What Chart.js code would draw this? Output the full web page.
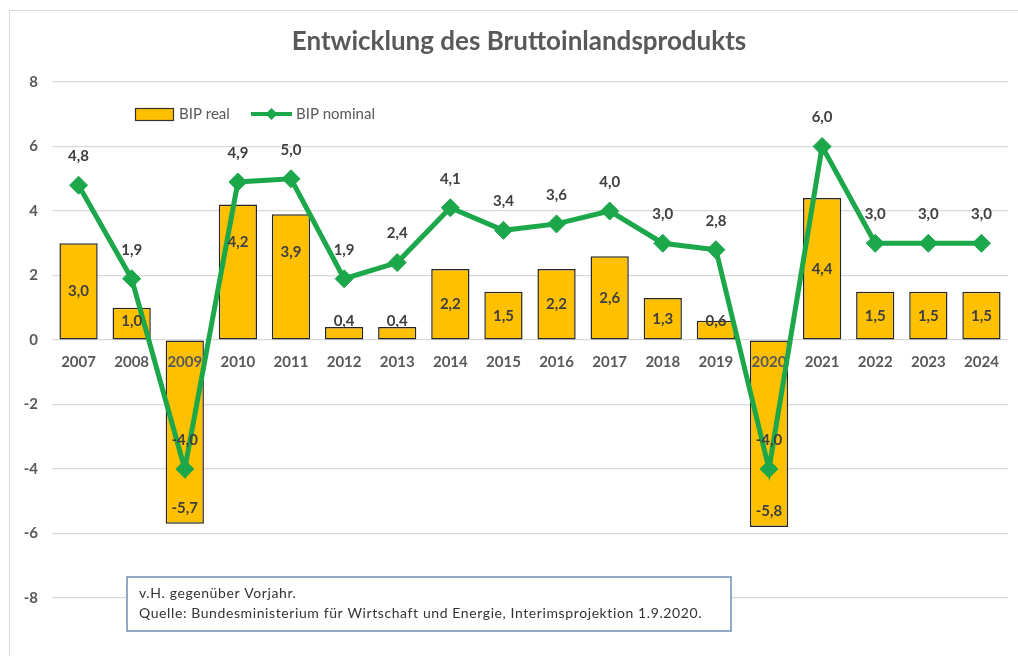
<!DOCTYPE html>
<html>
<head>
<meta charset="utf-8">
<script src="https://cdn.jsdelivr.net/npm/chart.js@4"></script>
<style>
  html, body { margin: 0; padding: 0; background: #fff; }
  #wrap { width: 1018px; height: 656px; position: relative; }
</style>
</head>
<body>
<div id="wrap"><canvas id="bipChart" width="1018" height="656"></canvas></div>
<script>
var years = ['2007', '2008', '2009', '2010', '2011', '2012', '2013', '2014', '2015',
             '2016', '2017', '2018', '2019', '2020', '2021', '2022', '2023', '2024'];
var bipReal = [3.0, 1.0, -5.7, 4.2, 3.9, 0.4, 0.4, 2.2, 1.5, 2.2, 2.6, 1.3, 0.6, -5.8, 4.4, 1.5, 1.5, 1.5];
var bipNominal = [4.8, 1.9, -4.0, 4.9, 5.0, 1.9, 2.4, 4.1, 3.4, 3.6, 4.0, 3.0, 2.8, -4.0, 6.0, 3.0, 3.0, 3.0];
var yTicks = [-8, -6, -4, -2, 0, 2, 4, 6, 8];

var green = '#1ca74b';
var orange = '#ffc000';
var textGrey = '#595959';
var FONT = 'Lato, "Open Sans", sans-serif';

function fmt(v) {
  return v.toFixed(1).replace('.', ',');
}

// extra bits: frame, title, legend, note, year labels, value labels
var extras = {
  id: 'extras',
  beforeDraw: function(chart) {
    var c = chart.ctx;
    c.save();
    c.strokeStyle = '#d9d9d9';
    c.lineWidth = 1;
    c.beginPath();
    c.moveTo(9.5, 660);
    c.lineTo(9.5, 10.5);
    c.lineTo(1020, 10.5);
    c.stroke();
    c.restore();
  },
  beforeDatasetDraw: function(chart, args) {
    if (args.index !== 1) return;
    // year labels sit on the zero line, above the bars but below the line
    var c = chart.ctx;
    var x = chart.scales.x, y = chart.scales.y;
    var y0 = y.getPixelForValue(0);
    c.save();
    c.font = 'bold 15px ' + FONT;
    c.fillStyle = textGrey;
    c.textAlign = 'center';
    c.textBaseline = 'middle';
    years.forEach(function(yr, i) {
      c.fillText(yr, x.getPixelForValue(i), y0 + 22);
    });
    c.restore();
  },
  afterDraw: function(chart) {
    var c = chart.ctx;
    var x = chart.scales.x, y = chart.scales.y;
    var y0 = y.getPixelForValue(0);
    c.save();

    // title
    c.font = 'bold 26px ' + FONT;
    c.fillStyle = textGrey;
    c.textAlign = 'center';
    c.textBaseline = 'middle';
    c.fillText('Entwicklung des Bruttoinlandsprodukts', 519, 42);

    // legend
    c.fillStyle = orange;
    c.fillRect(135.5, 108.5, 38, 12);
    c.strokeStyle = '#333';
    c.lineWidth = 1.2;
    c.strokeRect(135.5, 108.5, 38, 12);
    c.font = '15px ' + FONT;
    c.fillStyle = textGrey;
    c.textAlign = 'left';
    c.fillText('BIP real', 179, 114);
    c.strokeStyle = green;
    c.lineWidth = 4;
    c.beginPath();
    c.moveTo(251, 114);
    c.lineTo(292, 114);
    c.stroke();
    c.fillStyle = green;
    c.beginPath();
    c.moveTo(271.5, 108);
    c.lineTo(277.5, 114);
    c.lineTo(271.5, 120);
    c.lineTo(265.5, 114);
    c.closePath();
    c.fill();
    c.fillStyle = textGrey;
    c.fillText('BIP nominal', 296, 114);

    // bar value labels
    var barMeta = chart.getDatasetMeta(0);
    c.font = 'bold 15px ' + FONT;
    c.fillStyle = '#404040';
    c.textAlign = 'center';
    c.textBaseline = 'middle';
    bipReal.forEach(function(v, i) {
      var bar = barMeta.data[i];
      var ly;
      if (v < 0) {
        ly = bar.y - 16;
      } else {
        ly = Math.min((bar.y + y0) / 2, y0 - 19);
        if (v > 3.5 && v < 4.3) ly = bar.y + 38;
      }
      c.fillText(fmt(v), bar.x, ly);
    });

    // line value labels
    var lineMeta = chart.getDatasetMeta(1);
    bipNominal.forEach(function(v, i) {
      var pt = lineMeta.data[i];
      c.fillText(fmt(v), pt.x, pt.y - 29);
    });

    // note box
    c.fillStyle = '#fff';
    c.fillRect(127, 577, 604, 54);
    c.strokeStyle = '#6f8db2';
    c.lineWidth = 1.5;
    c.strokeRect(127, 577, 604, 54);
    c.font = '14px ' + FONT;
    c.letterSpacing = '0.6px';
    c.fillStyle = '#333';
    c.textAlign = 'left';
    c.textBaseline = 'alphabetic';
    c.fillText('v.H. gegenüber Vorjahr.', 139, 598);
    c.fillText('Quelle: Bundesministerium für Wirtschaft und Energie, Interimsprojektion 1.9.2020.', 139, 618);

    c.restore();
  }
};

var ctx = document.getElementById('bipChart').getContext('2d');
var bipChart = new Chart(ctx, {
  data: {
    labels: years,
    datasets: [
      {
        type: 'bar',
        label: 'BIP real',
        data: bipReal,
        backgroundColor: orange,
        borderColor: '#262626',
        borderWidth: 1.5,
        borderSkipped: false,
        categoryPercentage: 1,
        barPercentage: 0.72,
        order: 2
      },
      {
        type: 'line',
        label: 'BIP nominal',
        data: bipNominal,
        borderColor: green,
        backgroundColor: green,
        borderWidth: 5,
        tension: 0,
        fill: false,
        pointStyle: 'rectRot',
        pointRadius: 9,
        pointBorderWidth: 1,
        pointBackgroundColor: green,
        pointBorderColor: green,
        order: 1
      }
    ]
  },
  options: {
    responsive: false,
    animation: false,
    layout: {
      padding: { top: 82, right: 9, bottom: 58, left: 0 }
    },
    plugins: {
      legend: { display: false },
      title: { display: false },
      tooltip: { enabled: false }
    },
    scales: {
      x: {
        type: 'category',
        position: { y: 0 },
        offset: true,
        grid: { display: false, drawTicks: false },
        border: { display: false },
        ticks: { display: false }
      },
      y: {
        min: -8,
        max: 8,
        afterBuildTicks: function(scale) {
          scale.ticks = yTicks.map(function(v) { return { value: v }; });
        },
        afterFit: function(scale) { scale.width = 52; },
        grid: { color: '#d9d9d9', lineWidth: 1.2, drawTicks: false },
        border: { display: false },
        ticks: {
          padding: 14,
          color: textGrey,
          font: { family: FONT, size: 15, weight: 'bold' }
        }
      }
    }
  },
  plugins: [extras]
});
</script>
</body>
</html>
